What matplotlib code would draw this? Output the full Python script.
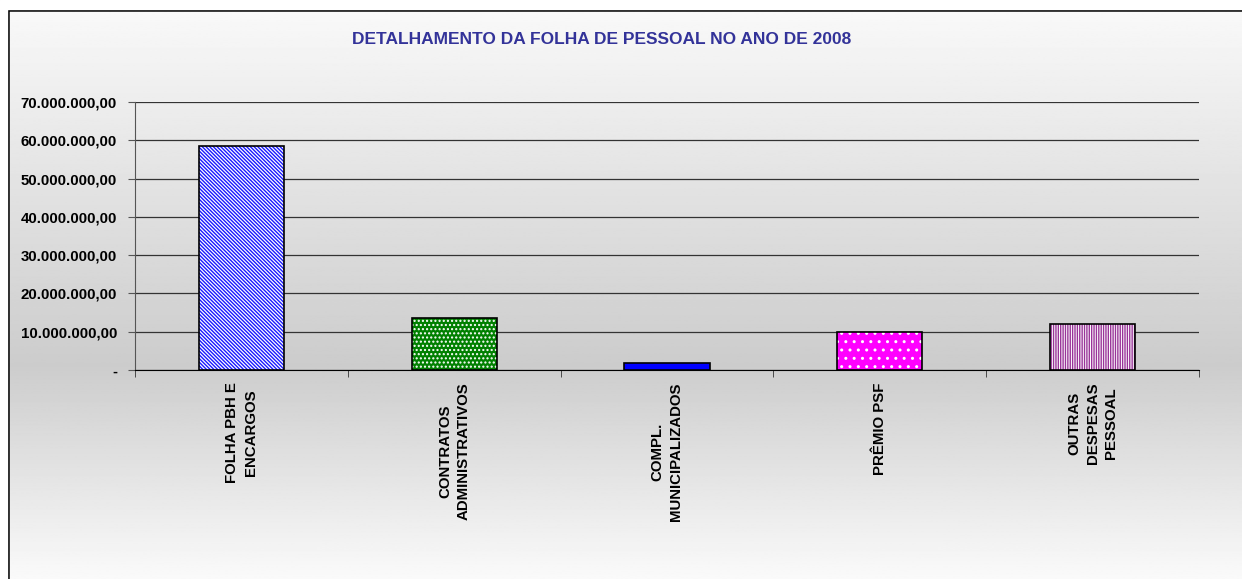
import matplotlib

matplotlib.use("Agg")
import matplotlib.pyplot as plt
import numpy as np
from matplotlib.patches import Rectangle

categories = [
    "FOLHA PBH E\nENCARGOS",
    "CONTRATOS\nADMINISTRATIVOS",
    "COMPL.\nMUNICIPALIZADOS",
    "PRÊMIO PSF",
    "OUTRAS\nDESPESAS\nPESSOAL",
]
values = [58_600_000, 13_500_000, 1_750_000, 9_900_000, 11_900_000]
yticks = [0, 10_000_000, 20_000_000, 30_000_000, 40_000_000, 50_000_000, 60_000_000, 70_000_000]

# face, hatch colour, hatch pattern
styles = [
    ("white", "#1a1aff", "\\" * 9),
    ("#008000", "white", "...."),
    ("#0000ff", "#0000ff", ""),
    ("#ff00ff", "white", ".."),
    ("white", "#993399", "|" * 7),
]


def fmt(v):
    if v == 0:
        return "-"
    s = f"{v:,.2f}"
    return s.replace(",", "X").replace(".", ",").replace("X", ".")


plt.rcParams["font.family"] = ["Liberation Sans", "DejaVu Sans"]
plt.rcParams["hatch.linewidth"] = 1.0

W, H = 1242, 579
fig = plt.figure(figsize=(W / 100, H / 100), dpi=100)

# background gradient
bg = fig.add_axes([0, 0, 1, 1])
ys = np.linspace(0, 1, 400)
mid = 1 - 365 / H
shade = np.where(ys > mid, 0.80 + 0.18 * ((ys - mid) / (1 - mid)), 0.80 + 0.18 * ((mid - ys) / mid))
shade = np.clip(shade, 0, 1)
grad = np.repeat(shade[:, None], 2, axis=1)
bg.imshow(grad, cmap="gray", vmin=0, vmax=1, aspect="auto", origin="lower", extent=[0, 1, 0, 1])
bg.set_xlim(0, 1)
bg.set_ylim(0, 1)
bg.axis("off")
# frame border (left + top)
bg.plot([8 / W, 8 / W, 1.0], [0, 1 - 10 / H, 1 - 10 / H], color="black", lw=1.8, clip_on=False)
bg.add_patch(Rectangle((0, 1 - 9.3 / H), 1, 9.3 / H, color="white", zorder=3))
bg.add_patch(Rectangle((0, 0), 7.2 / W, 1, color="white", zorder=3))
bg.text(602 / W, 1 - 39 / H, "DETALHAMENTO DA FOLHA DE PESSOAL NO ANO DE 2008",
        ha="center", va="center", fontsize=12.5, fontweight="bold", color="#333399")

left, right, top, bottom = 135, 1199, 102, 370
ax = fig.add_axes([left / W, 1 - bottom / H, (right - left) / W, (bottom - top) / H])
ax.patch.set_alpha(0)

x = np.arange(len(categories))
for i, (v, (fc, hc, hatch)) in enumerate(zip(values, styles)):
    ax.bar(x[i], v, 0.4, color=fc, edgecolor=hc, hatch=hatch, linewidth=0, zorder=3)
    ax.bar(x[i], v, 0.4, fill=False, edgecolor="black", linewidth=1.2, zorder=4)

ax.set_xlim(-0.5, len(categories) - 0.5)
ax.set_ylim(0, 70_000_000)
ax.set_yticks(yticks)
ax.set_yticklabels([fmt(v) for v in yticks], fontsize=10.8, fontweight="bold")
ax.yaxis.grid(True, color="#333333", lw=0.9)
ax.set_axisbelow(True)

ax.set_xticks(x)
ax.set_xticklabels(categories, rotation=90, fontsize=10.8, fontweight="bold",
                   va="top", ha="center", multialignment="center", linespacing=1.4)
ax.set_xticks(np.arange(-0.5, len(categories)), minor=True)
ax.tick_params(axis="x", which="major", length=0, pad=9)
ax.tick_params(axis="x", which="minor", length=5, direction="out", color="#333333")
ax.tick_params(axis="y", length=5, direction="out", color="#555555", pad=8)

for s in ["top", "right"]:
    ax.spines[s].set_visible(False)
ax.spines["left"].set_color("#555555")
ax.spines["bottom"].set_color("black")

fig.savefig("out.png", dpi=100)
